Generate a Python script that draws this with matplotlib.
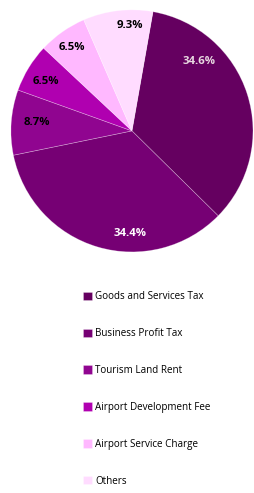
import matplotlib
matplotlib.use("Agg")
import numpy as np
import matplotlib.pyplot as plt

categories = ['Goods and Services Tax', 'Business Profit Tax', 'Tourism Land Rent',
              'Airport Development Fee', 'Airport Service Charge', 'Others']
shares = [34.6, 34.4, 8.7, 6.5, 6.5, 9.3]
colors = ['#650060', '#760074', '#900590', '#b000b0', '#ffb8ff', '#ffdcff']
label_colors = ['#e8d8e0', 'white', 'black', 'black', 'black', 'black']
# label placement (degrees clockwise from top, radius) - big slices are not centred
label_pos = [(44, 0.80), (181, 0.85), (275, 0.79), (300, 0.82), (324, 0.85), (359, 0.87)]

plt.rcParams['font.family'] = ['Open Sans', 'DejaVu Sans']

fig = plt.figure(figsize=(2.54, 4.93), dpi=100)
ax = fig.add_axes([0.043, 0.489, 0.953, 0.491])

wedges, texts, autotexts = ax.pie(
    shares, colors=colors, startangle=80, counterclock=False,
    autopct='%.1f%%', pctdistance=0.82,
    wedgeprops=dict(edgecolor=(1, 1, 1, 0.35), linewidth=0.5))
for t, c, (ang, r) in zip(autotexts, label_colors, label_pos):
    t.set_color(c)
    t.set_fontsize(8.2)
    t.set_fontweight('bold')
    a = np.deg2rad(ang)
    t.set_position((r * np.sin(a), r * np.cos(a)))
ax.set_xlim(-1, 1)
ax.set_ylim(-1, 1)
ax.set_aspect('equal')
ax.axis('off')

fig.legend(wedges, categories, loc='upper left', bbox_to_anchor=(0.31, 0.417),
           frameon=False, fontsize=7.1, handlelength=0.95, handleheight=0.95,
           handletextpad=0.3, labelspacing=2.62, borderaxespad=0)

fig.savefig('out.png', dpi=100)
